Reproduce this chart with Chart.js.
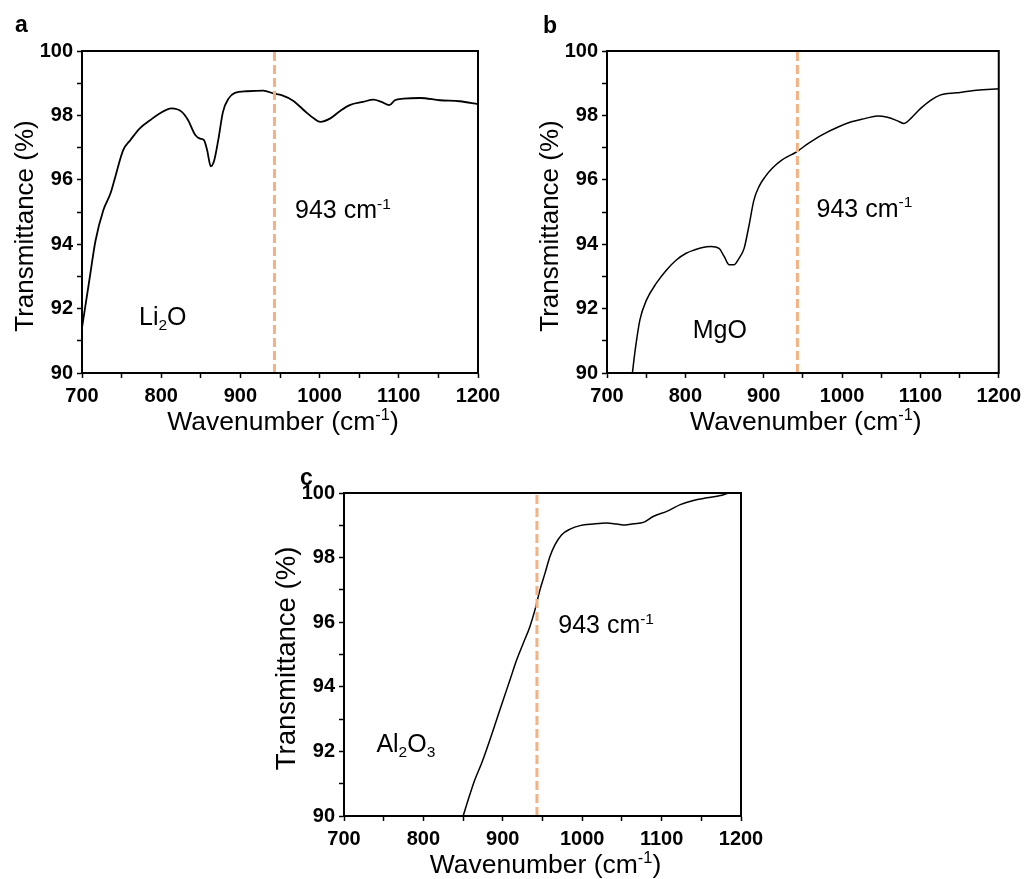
<!DOCTYPE html>
<html>
<head>
<meta charset="utf-8">
<title>FTIR transmittance</title>
<script src="https://cdn.jsdelivr.net/npm/chart.js@4.4.1/dist/chart.umd.min.js"></script>
<style>
    body { margin: 0; background: #fff; width: 1027px; height: 879px; position: relative; overflow: hidden; }
    .panel { position: absolute; }
</style>
</head>
<body>
<div class="panel" style="left:0px;top:0px;width:520px;height:440px"><canvas id="chart-a"></canvas></div>
<div class="panel" style="left:520px;top:0px;width:507px;height:440px"><canvas id="chart-b"></canvas></div>
<div class="panel" style="left:260px;top:460px;width:540px;height:419px"><canvas id="chart-c"></canvas></div>
<script>
// ========================================
// Data
// ========================================
const X_MIN = 700, X_MAX = 1200;
const Y_MIN = 90, Y_MAX = 100;
const MARKER_WAVENUMBER = 943;

// Li2O spectrum
const li2oWavenumber = [700, 705, 710, 717, 727, 736, 742, 752, 761, 773, 786, 798, 813, 826, 834, 843, 849, 854, 858, 862.6, 867, 872, 878, 885, 893, 908, 929, 942, 952, 967, 982, 993, 1001, 1013, 1026, 1038, 1055, 1068, 1078, 1088, 1095, 1106, 1127, 1152, 1177, 1200];
const li2oTransmittance = [91.4, 92.2, 93.0, 94.1, 95.06, 95.58, 96.09, 96.92, 97.23, 97.6, 97.85, 98.06, 98.22, 98.11, 97.85, 97.39, 97.28, 97.23, 96.92, 96.42, 96.61, 97.23, 98.11, 98.52, 98.7, 98.75, 98.77, 98.68, 98.63, 98.45, 98.12, 97.9, 97.8, 97.9, 98.14, 98.32, 98.42, 98.49, 98.42, 98.32, 98.47, 98.52, 98.54, 98.47, 98.44, 98.35];

// MgO spectrum
const mgoWavenumber = [732.4, 736, 742, 750.5, 763, 776, 788.5, 801, 811.6, 822, 832.7, 843, 849.5, 856, 862, 868.5, 875, 881, 887.5, 894, 902, 910.6, 923, 942, 957, 974, 995, 1012, 1029, 1045, 1058, 1071, 1079, 1087.5, 1100, 1113, 1125, 1146, 1172, 1200];
const mgoTransmittance = [90.0, 90.72, 91.65, 92.27, 92.79, 93.2, 93.51, 93.72, 93.82, 93.9, 93.93, 93.87, 93.62, 93.36, 93.36, 93.56, 93.87, 94.55, 95.37, 95.79, 96.1, 96.35, 96.61, 96.87, 97.13, 97.39, 97.64, 97.8, 97.9, 97.98, 97.94, 97.83, 97.75, 97.9, 98.21, 98.47, 98.63, 98.7, 98.78, 98.83];

// Al2O3 spectrum
const al2o3Wavenumber = [850.1, 856.4, 864.8, 873.3, 883.8, 892.2, 900.6, 909, 917.4, 925.8, 934.2, 940.5, 946.8, 953.2, 959.5, 965.8, 974.2, 984.7, 997.3, 1014, 1031, 1043.6, 1054, 1064.6, 1077, 1090, 1106.6, 1123.5, 1140, 1157, 1174, 1186.6, 1200];
const al2o3Transmittance = [90.0, 90.5, 91.12, 91.63, 92.36, 92.98, 93.6, 94.21, 94.83, 95.35, 95.87, 96.38, 97.0, 97.52, 98.04, 98.4, 98.71, 98.88, 98.99, 99.04, 99.07, 99.04, 99.01, 99.05, 99.09, 99.28, 99.43, 99.64, 99.77, 99.85, 99.92, 100.0, 100.0];

// ========================================
// Styles
// ========================================
const FONT = "'Liberation Sans', Arial, Helvetica, sans-serif";
const MARKER_COLOR = '#F4B183';
const NOTE_SIZE = 25;

const panels = [
    {
        id: 'chart-a', letter: 'a', letterPos: [15, 32],
        area: { left: 82, top: 51, right: 478, bottom: 373 },
        xs: li2oWavenumber, ys: li2oTransmittance, lineWidth: 1.8,
        sample: [{ t: 'Li' }, { t: '2', sub: true }, { t: 'O' }], samplePos: [772, 91.5],
        markerPos: [969, 94.8],
        yTitleSize: 26, yTitleShift: 14
    },
    {
        id: 'chart-b', letter: 'b', letterPos: [23, 33],
        area: { left: 87, top: 51, right: 482, bottom: 373 },
        xs: mgoWavenumber, ys: mgoTransmittance, lineWidth: 1.5,
        sample: [{ t: 'MgO' }], samplePos: [809.4, 91.08],
        markerPos: [967.4, 94.85],
        yTitleSize: 26, yTitleShift: 14
    },
    {
        id: 'chart-c', letter: 'c', letterPos: [40, 25],
        area: { left: 84, top: 33, right: 481, bottom: 356 },
        xs: al2o3Wavenumber, ys: al2o3Transmittance, lineWidth: 1.5,
        sample: [{ t: 'Al' }, { t: '2', sub: true }, { t: 'O' }, { t: '3', sub: true }], samplePos: [740.8, 91.99],
        markerPos: [969.8, 95.66],
        yTitleSize: 27.5, yTitleShift: 4
    }
];

// ========================================
// Text helpers
// ========================================
function richWidth(ctx, parts, size) {
    let w = 0;
    parts.forEach(p => {
        ctx.font = `${(p.sub || p.sup) ? size * 0.62 : size}px ${FONT}`;
        w += ctx.measureText(p.t).width;
    });
    return w;
}

// draws text with sub/superscript pieces, x is the left edge, y the baseline
function drawRich(ctx, parts, x, y, size) {
    ctx.textAlign = 'left';
    ctx.textBaseline = 'alphabetic';
    parts.forEach(p => {
        const small = p.sub || p.sup;
        ctx.font = `${small ? size * 0.62 : size}px ${FONT}`;
        let dy = 0;
        if (p.sub) dy = size * 0.2;
        if (p.sup) dy = -size * 0.38;
        ctx.fillText(p.t, x, y + dy);
        x += ctx.measureText(p.t).width;
    });
}

const xTitleParts = [{ t: 'Wavenumber (cm' }, { t: '-1', sup: true }, { t: ')' }];
const yTitleParts = [{ t: 'Transmittance (%)' }];
const markerParts = [{ t: '943 cm' }, { t: '-1', sup: true }];

// ========================================
// Plugins
// ========================================
const frameAndLabels = {
    id: 'frameAndLabels',
    afterDatasetsDraw(chart, args, opts) {
        const { ctx, chartArea: a, scales } = chart;
        const p = opts.panel;
        ctx.save();
        ctx.fillStyle = '#000';

        // box around the plot
        ctx.strokeStyle = '#000';
        ctx.lineWidth = 2;
        ctx.strokeRect(a.left, a.top, a.right - a.left, a.bottom - a.top);

        // axis titles
        const xw = richWidth(ctx, xTitleParts, 26.5);
        drawRich(ctx, xTitleParts, (a.left + a.right) / 2 + 3 - xw / 2, a.bottom + 57, 26.5);

        ctx.save();
        ctx.translate(a.left - 49, (a.top + a.bottom) / 2 + p.yTitleShift);
        ctx.rotate(-Math.PI / 2);
        const yw = richWidth(ctx, yTitleParts, p.yTitleSize);
        drawRich(ctx, yTitleParts, -yw / 2, 0, p.yTitleSize);
        ctx.restore();

        // annotations placed in data coordinates
        drawRich(ctx, markerParts,
            scales.x.getPixelForValue(p.markerPos[0]), scales.y.getPixelForValue(p.markerPos[1]), NOTE_SIZE);
        drawRich(ctx, p.sample,
            scales.x.getPixelForValue(p.samplePos[0]), scales.y.getPixelForValue(p.samplePos[1]), NOTE_SIZE);

        // panel letter
        ctx.font = `bold 23px ${FONT}`;
        ctx.textAlign = 'left';
        ctx.textBaseline = 'alphabetic';
        ctx.fillText(p.letter, p.letterPos[0], p.letterPos[1]);
        ctx.restore();
    }
};

// ========================================
// Charts
// ========================================
function makeChart(p) {
    const canvas = document.getElementById(p.id);
    const box = canvas.parentElement;
    const W = box.clientWidth, H = box.clientHeight;
    const a = p.area;

    const spectrum = p.xs.map((x, i) => ({ x: x, y: p.ys[i] }));
    const marker = [{ x: MARKER_WAVENUMBER, y: Y_MIN }, { x: MARKER_WAVENUMBER, y: Y_MAX }];

    const tickFont = { family: FONT, size: 20, weight: 'bold' };

    return new Chart(canvas, {
        type: 'line',
        data: {
            datasets: [
                {
                    data: marker,
                    borderColor: MARKER_COLOR,
                    borderWidth: 3,
                    borderDash: [9, 4],
                    pointRadius: 0,
                    order: 0
                },
                {
                    data: spectrum,
                    borderColor: '#000',
                    borderWidth: p.lineWidth,
                    pointRadius: 0,
                    cubicInterpolationMode: 'monotone',
                    order: 1
                }
            ]
        },
        options: {
            responsive: true,
            maintainAspectRatio: false,
            animation: false,
            devicePixelRatio: 1,
            layout: { padding: { left: 0, top: a.top, right: W - a.right, bottom: 0 } },
            plugins: {
                legend: { display: false },
                tooltip: { enabled: false },
                frameAndLabels: { panel: p }
            },
            scales: {
                x: {
                    type: 'linear',
                    min: X_MIN,
                    max: X_MAX,
                    afterFit: s => { s.height = H - a.bottom; },
                    ticks: {
                        stepSize: 50,
                        autoSkip: false,
                        maxRotation: 0,
                        padding: 6,
                        color: '#000',
                        font: tickFont,
                        callback: v => (v % 100 === 0 ? String(v) : '')
                    },
                    grid: {
                        drawOnChartArea: false,
                        drawTicks: true,
                        tickLength: 5,
                        tickColor: '#000',
                        tickWidth: 1.5
                    },
                    border: { display: true, color: '#000', width: 2 }
                },
                y: {
                    type: 'linear',
                    min: Y_MIN,
                    max: Y_MAX,
                    afterFit: s => { s.width = a.left; },
                    ticks: {
                        stepSize: 1,
                        autoSkip: false,
                        padding: 4,
                        color: '#000',
                        font: tickFont,
                        callback: v => (v % 2 === 0 ? String(v) : '')
                    },
                    grid: {
                        drawOnChartArea: false,
                        drawTicks: true,
                        tickLength: 5,
                        tickColor: '#000',
                        tickWidth: 1.5
                    },
                    border: { display: true, color: '#000', width: 2 }
                }
            }
        },
        plugins: [frameAndLabels]
    });
}

panels.forEach(makeChart);
</script>
</body>
</html>
